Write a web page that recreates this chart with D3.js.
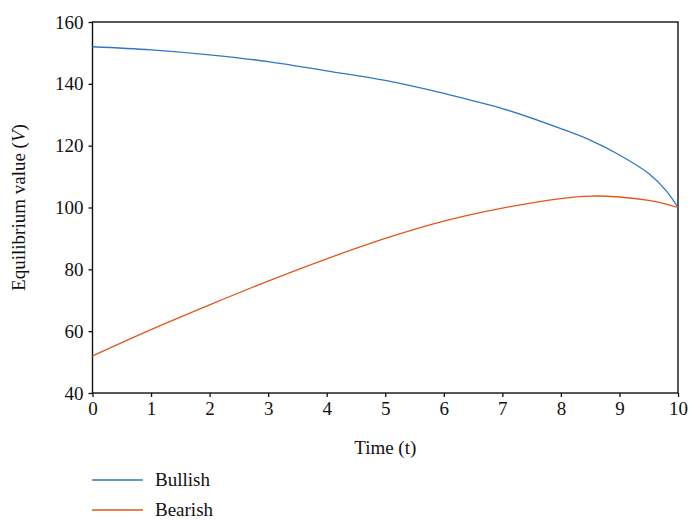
<!DOCTYPE html>
<html>
<head>
<meta charset="utf-8">
<script src="https://cdn.jsdelivr.net/npm/d3@7"></script>
<style>
  body { margin: 0; background: #fff; }
  svg { display: block; }
  text { font-family: "Liberation Serif", "Times New Roman", serif; fill: #111; }
</style>
</head>
<body>
<script>
// values
const times = [0, 1, 2, 3, 4, 5, 6, 7, 8, 8.5, 9, 9.5, 9.8, 10]
const bullish = [152, 151, 149.4, 147.2, 144.2, 141.1, 136.9, 132, 125.5, 121.8, 117, 111, 105.4, 100]
const bearish = [52, 60.5, 68.5, 76.2, 83.4, 90, 95.6, 99.8, 102.9, 103.7, 103.4, 102.3, 101.1, 100]
const xTicks = [0, 1, 2, 3, 4, 5, 6, 7, 8, 9, 10]
const yTicks = [40, 60, 80, 100, 120, 140, 160]
const seriesNames = ['Bullish', 'Bearish']
const colors = ['#2f78c4', '#e2561b']

const width = 691, height = 520
const margin = {left: 92.5, right: 13, top: 22, bottom: 127}
const w = width - margin.left - margin.right
const h = height - margin.top - margin.bottom
const fs = '19px'

const svg = d3.select('body').append('svg')
  .attr('width', width).attr('height', height)

const x = d3.scaleLinear().domain([0, 10]).range([0, w])
const y = d3.scaleLinear().domain([40, 160]).range([h, 0])

const g = svg.append('g')
  .attr('transform', `translate(${margin.left},${margin.top})`)

const xAxis = d3.axisBottom(x).tickValues(xTicks).tickSize(4).tickPadding(5).tickFormat(d3.format('d'))
const yAxis = d3.axisLeft(y).tickValues(yTicks).tickSize(4).tickPadding(5)

g.append('g').attr('class', 'axis x')
  .attr('transform', `translate(0,${h})`)
  .call(xAxis)
g.append('g').attr('class', 'axis y')
  .call(yAxis)

g.selectAll('.axis text').style('font-size', fs)
  .style('font-family', '"Liberation Serif", serif').attr('fill', '#111')
g.selectAll('.axis line').attr('stroke', '#111').attr('stroke-width', 1.3)
g.selectAll('.axis path').remove()

// frame box
g.append('rect')
  .attr('x', 0).attr('y', 0).attr('width', w).attr('height', h)
  .attr('fill', 'none').attr('stroke', '#111').attr('stroke-width', 1.4)

const line = d3.line()
  .x((d, i) => x(times[i]))
  .y(d => y(d))
  .curve(d3.curveCatmullRom.alpha(0.5))

;[bullish, bearish].forEach((s, k) => {
  g.append('path')
    .datum(s)
    .attr('d', line)
    .attr('fill', 'none')
    .attr('stroke', colors[k])
    .attr('stroke-width', 1.3)
})

// axis titles
svg.append('text')
  .attr('x', margin.left + w / 2).attr('y', 454)
  .attr('text-anchor', 'middle')
  .style('font-size', fs)
  .text('Time (t)')

const yt = svg.append('text')
  .attr('transform', `translate(25,${margin.top + h / 2}) rotate(-90)`)
  .attr('text-anchor', 'middle')
  .style('font-size', fs)
yt.append('tspan').text('Equilibrium value (')
yt.append('tspan').style('font-style', 'italic').text('V')
yt.append('tspan').text(')')

// legend
const legend = svg.append('g')
seriesNames.forEach((name, k) => {
  const ly = 480 + k * 30
  legend.append('line')
    .attr('x1', 92).attr('x2', 143).attr('y1', ly).attr('y2', ly)
    .attr('stroke', colors[k]).attr('stroke-width', 1.3)
  legend.append('text')
    .attr('x', 155).attr('y', ly + 6)
    .style('font-size', fs)
    .text(name)
})
</script>
</body>
</html>
